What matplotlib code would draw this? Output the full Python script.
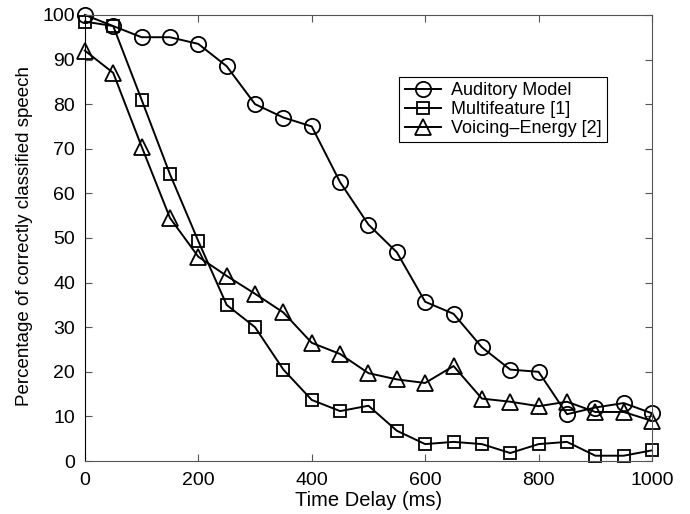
import numpy as np
import matplotlib.pyplot as plt

plt.rcParams['font.family'] = ['Liberation Sans', 'DejaVu Sans']

delays = [0, 50, 100, 150, 200, 250, 300, 350, 400, 450, 500,
          550, 600, 650, 700, 750, 800, 850, 900, 950, 1000]
auditory = [100, 97.5, 95, 95, 93.5, 88.5, 80, 77, 75, 62.5, 53,
            46.8, 35.7, 33, 25.5, 20.5, 20, 10.5, 12, 13, 10.7]
multifeature = [98.5, 97.5, 81, 64.3, 49.3, 35, 30, 20.5, 13.7, 11.2, 12.4,
                6.8, 3.8, 4.3, 3.8, 1.8, 3.8, 4.3, 1.2, 1.2, 2.4]
voicing = [92, 87, 70.5, 54.5, 45.8, 41.5, 37.5, 33.3, 26.5, 24, 19.7,
           18.3, 17.5, 21.3, 14, 13.3, 12.3, 13.3, 11, 11, 9]

fig = plt.figure(figsize=(6.9, 5.14), dpi=100)
ax = fig.add_axes([0.123, 0.103, 0.822, 0.868])

style = dict(color="black", lw=1.4, mfc="none", mec="black", mew=1.3, clip_on=False)
ax.plot(delays, auditory, marker="o", ms=11, label="Auditory Model", **style)
ax.plot(delays, multifeature, marker="s", ms=9, label="Multifeature [1]", **style)
ax.plot(delays, voicing, marker="^", ms=12, label="Voicing\u2013Energy [2]", **style)

ax.set_xlim(0, 1000)
ax.set_ylim(0, 100)
ax.set_xticks(range(0, 1001, 200))
ax.set_yticks(range(0, 101, 10))
ax.tick_params(direction="in", top=True, right=True, labelsize=14, length=5,
               color="#555555")
ax.tick_params(axis="x", pad=8)
ax.tick_params(axis="y", pad=7)
for side in ["top", "right", "bottom"]:
    ax.spines[side].set_color("#555555")
ax.spines["left"].set_color("black")
ax.set_xlabel("Time Delay (ms)", fontsize=14.5, labelpad=1)
ax.set_ylabel("Percentage of correctly classified speech", fontsize=13.5)
ax.yaxis.set_label_coords(-0.092, 0.504)

leg = ax.legend(loc="upper left", bbox_to_anchor=(0.554, 0.861), fontsize=13,
                fancybox=False, edgecolor="black", framealpha=1,
                borderpad=0.3, labelspacing=0.1, handlelength=2.0,
                handletextpad=0.6, borderaxespad=0)
leg.get_frame().set_linewidth(0.8)

fig.savefig("out.png", dpi=100)
